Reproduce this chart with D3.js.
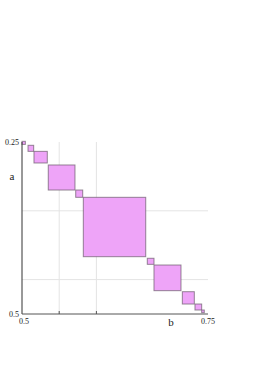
<!DOCTYPE html>
<html>
<head>
<meta charset="utf-8">
<script src="https://cdn.jsdelivr.net/npm/d3@7"></script>
<style>
  body { margin: 0; background: #fff; }
  svg { display: block; }
  text { font-family: "Liberation Serif", "DejaVu Serif", serif; fill: #222; }
</style>
</head>
<body>
<svg id="chart" width="262" height="370"></svg>
<script>
// intervals: b on the x axis, a on the y axis
var bLo = [0.5000, 0.5081, 0.5161, 0.5353, 0.5722, 0.5824, 0.6684, 0.6774, 0.7155, 0.7325, 0.7415];
var bHi = [0.5045, 0.5157, 0.5340, 0.5712, 0.5816, 0.6663, 0.6774, 0.7137, 0.7316, 0.7415, 0.7450];
var aLo = [0.2490, 0.2548, 0.2636, 0.2834, 0.3198, 0.3304, 0.4190, 0.4288, 0.4676, 0.4855, 0.4942];
var aHi = [0.2535, 0.2636, 0.2805, 0.3198, 0.3304, 0.4167, 0.4278, 0.4661, 0.4855, 0.4942, 0.4981];

var xGrid = [0.55, 0.6];
var yGrid = [0.35, 0.45];
var xTickLabels = [0.5, 0.75];
var yTickLabels = [0.25, 0.5];

var svg = d3.select("#chart");

var x = d3.scaleLinear().domain([0.5, 0.75]).range([22, 208]);
var y = d3.scaleLinear().domain([0.25, 0.5]).range([142, 314]);

// grid
svg.append("g").selectAll("line")
    .data(xGrid)
  .enter().append("line")
    .attr("x1", x).attr("x2", x)
    .attr("y1", y(0.25)).attr("y2", y(0.5))
    .attr("stroke", "#e4e4e4");

svg.append("g").selectAll("line")
    .data(yGrid)
  .enter().append("line")
    .attr("x1", x(0.5)).attr("x2", x(0.75))
    .attr("y1", y).attr("y2", y)
    .attr("stroke", "#e4e4e4");

// boxes
var boxes = d3.range(bLo.length).map(function(i) {
  return {b0: bLo[i], b1: bHi[i], a0: aLo[i], a1: aHi[i]};
});

svg.append("g").selectAll("rect")
    .data(boxes)
  .enter().append("rect")
    .attr("x", function(d) { return x(d.b0); })
    .attr("y", function(d) { return y(d.a0); })
    .attr("width", function(d) { return x(d.b1) - x(d.b0); })
    .attr("height", function(d) { return y(d.a1) - y(d.a0); })
    .attr("fill", "#eea4f8")
    .attr("stroke", "#6a5a6a")
    .attr("stroke-opacity", 0.7)
    .attr("stroke-width", 1);

// axes
svg.append("line")
    .attr("x1", x(0.5)).attr("x2", x(0.5))
    .attr("y1", y(0.25)).attr("y2", y(0.5))
    .attr("stroke", "#333").attr("stroke-width", 1);

svg.append("line")
    .attr("x1", x(0.5)).attr("x2", x(0.75))
    .attr("y1", y(0.5)).attr("y2", y(0.5))
    .attr("stroke", "#555").attr("stroke-width", 1);

svg.append("g").selectAll("line")
    .data(xGrid)
  .enter().append("line")
    .attr("x1", x).attr("x2", x)
    .attr("y1", y(0.5)).attr("y2", y(0.5) - 3)
    .attr("stroke", "#555");

// tick labels
svg.append("g").selectAll("text")
    .data(xTickLabels)
  .enter().append("text")
    .attr("x", function(d, i) { return i == 0 ? x(d) - 3 : x(d); })
    .attr("y", y(0.5) + 10)
    .attr("text-anchor", function(d, i) { return i == 0 ? "start" : "middle"; })
    .style("font-size", "8px")
    .text(function(d) { return d; });

svg.append("g").selectAll("text")
    .data(yTickLabels)
  .enter().append("text")
    .attr("x", x(0.5) - 3)
    .attr("y", function(d) { return y(d) + 3; })
    .attr("text-anchor", "end")
    .style("font-size", "8px")
    .text(function(d) { return d; });

// axis names
svg.append("text")
    .attr("x", 171)
    .attr("y", 326)
    .attr("text-anchor", "middle")
    .style("font-size", "11px")
    .text("b");

svg.append("text")
    .attr("x", 12)
    .attr("y", 180)
    .attr("text-anchor", "middle")
    .style("font-size", "11px")
    .text("a");
</script>
</body>
</html>
